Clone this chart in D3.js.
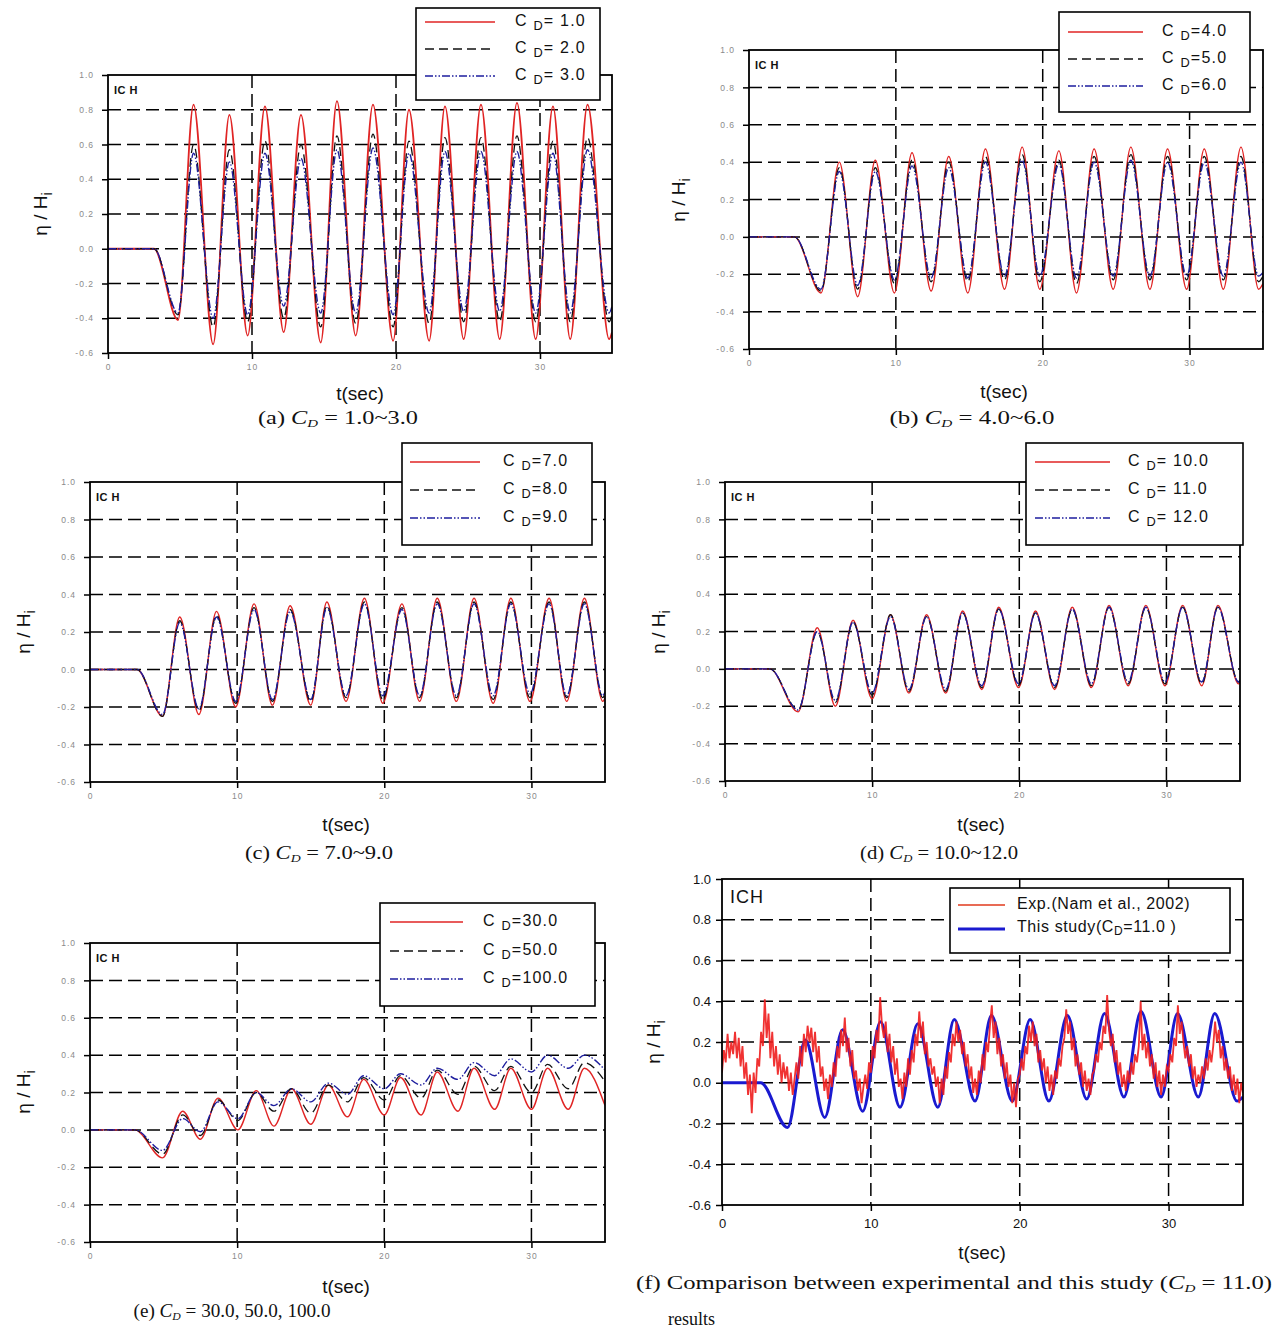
<!DOCTYPE html>
<html><head><meta charset="utf-8">
<script src="https://cdn.jsdelivr.net/npm/d3@7"></script>
<style>body{margin:0;background:#fff}</style>
</head><body>
<svg id="c" width="1280" height="1331"></svg>
<script>
// ---------------- DATA ----------------
const yTicks = [-0.6,-0.4,-0.2,0.0,0.2,0.4,0.6,0.8,1.0];
const xTicks = [0,10,20,30];

// (a) C_D = 1.0 ~ 3.0 : times of extrema and values
const tA = [0,3.2,4.86,5.94,7.3,8.43,9.7,10.9,12.2,13.4,14.77,15.9,17.2,18.4,19.8,20.9,22.3,23.4,24.7,25.9,27.2,28.4,29.7,30.9,32.1,33.3,34.8,35];
const a_cd1 = [0,0,-0.41,0.83,-0.55,0.77,-0.50,0.82,-0.48,0.77,-0.54,0.85,-0.50,0.83,-0.53,0.80,-0.53,0.82,-0.52,0.83,-0.52,0.84,-0.52,0.82,-0.52,0.83,-0.52,-0.48];
const a_cd2 = [0,0,-0.38,0.60,-0.45,0.57,-0.42,0.62,-0.40,0.60,-0.45,0.65,-0.43,0.66,-0.45,0.62,-0.43,0.64,-0.42,0.64,-0.42,0.65,-0.42,0.62,-0.42,0.64,-0.42,-0.38];
const a_cd3 = [0,0,-0.37,0.55,-0.40,0.50,-0.38,0.55,-0.33,0.52,-0.37,0.57,-0.37,0.58,-0.38,0.55,-0.37,0.56,-0.36,0.56,-0.36,0.56,-0.37,0.55,-0.37,0.57,-0.37,-0.33];

// (b) C_D = 4.0 ~ 6.0
const tB = [0,3.1,4.9,6.15,7.4,8.6,9.9,11.1,12.4,13.6,14.9,16.1,17.4,18.6,19.8,21.1,22.3,23.5,24.8,26.0,27.3,28.5,29.8,31.0,32.3,33.5,34.7,35];
const b_cd4 = [0,0,-0.30,0.40,-0.32,0.41,-0.30,0.45,-0.29,0.43,-0.30,0.47,-0.28,0.48,-0.28,0.46,-0.30,0.47,-0.28,0.48,-0.28,0.47,-0.28,0.47,-0.28,0.48,-0.28,-0.25];
const b_cd5 = [0,0,-0.29,0.37,-0.28,0.37,-0.25,0.41,-0.24,0.40,-0.24,0.43,-0.23,0.44,-0.24,0.41,-0.25,0.43,-0.23,0.44,-0.23,0.43,-0.23,0.43,-0.23,0.43,-0.24,-0.21];
const b_cd6 = [0,0,-0.28,0.35,-0.26,0.35,-0.23,0.38,-0.22,0.37,-0.22,0.40,-0.21,0.41,-0.21,0.39,-0.22,0.40,-0.21,0.41,-0.21,0.40,-0.21,0.40,-0.21,0.40,-0.21,-0.19];

// (c) C_D = 7.0 ~ 9.0
const tC = [0,3.2,4.93,6.1,7.4,8.6,9.9,11.15,12.4,13.6,15.0,16.1,17.4,18.65,19.9,21.2,22.4,23.6,24.9,26.1,27.4,28.6,29.9,31.2,32.4,33.6,34.85,35];
const c_cd7 = [0,0,-0.25,0.28,-0.24,0.31,-0.20,0.35,-0.19,0.34,-0.19,0.36,-0.17,0.38,-0.18,0.35,-0.17,0.38,-0.17,0.38,-0.18,0.38,-0.17,0.38,-0.17,0.38,-0.17,-0.15];
const c_cd8 = [0,0,-0.25,0.26,-0.22,0.29,-0.18,0.33,-0.17,0.32,-0.17,0.34,-0.15,0.36,-0.16,0.33,-0.15,0.36,-0.15,0.36,-0.16,0.36,-0.15,0.36,-0.15,0.36,-0.15,-0.13];
const c_cd9 = [0,0,-0.24,0.25,-0.21,0.28,-0.17,0.32,-0.16,0.31,-0.16,0.33,-0.14,0.35,-0.14,0.32,-0.14,0.35,-0.14,0.35,-0.14,0.35,-0.13,0.35,-0.14,0.35,-0.14,-0.12];

// (d) C_D = 10.0 ~ 12.0
const tD = [0,3.05,4.97,6.27,7.5,8.7,10.0,11.25,12.5,13.7,15.0,16.15,17.45,18.6,19.95,21.1,22.4,23.6,24.9,26.1,27.4,28.6,29.9,31.1,32.4,33.5,34.9,35];
const d_cd10 = [0,0,-0.23,0.22,-0.20,0.26,-0.16,0.29,-0.13,0.29,-0.13,0.31,-0.11,0.33,-0.10,0.31,-0.11,0.33,-0.10,0.34,-0.09,0.34,-0.09,0.34,-0.09,0.34,-0.08,-0.07];
const d_cd11 = [0,0,-0.22,0.20,-0.18,0.25,-0.14,0.29,-0.12,0.28,-0.12,0.30,-0.10,0.32,-0.09,0.30,-0.10,0.32,-0.09,0.33,-0.08,0.33,-0.08,0.33,-0.08,0.33,-0.07,-0.06];
const d_cd12 = [0,0,-0.22,0.20,-0.17,0.25,-0.13,0.28,-0.11,0.28,-0.11,0.30,-0.09,0.32,-0.08,0.30,-0.09,0.32,-0.08,0.33,-0.07,0.33,-0.07,0.33,-0.07,0.33,-0.07,-0.06];

// (e) C_D = 30, 50, 100
const tE = [0,3.05,4.93,6.3,7.5,8.7,10.05,11.3,12.5,13.7,15.0,16.2,17.5,18.6,20.0,21.1,22.5,23.6,25.0,26.1,27.5,28.6,30.0,31.1,32.5,33.6,35];
const e_cd30 = [0,0,-0.15,0.10,-0.05,0.17,0.00,0.21,0.02,0.22,0.03,0.24,0.07,0.27,0.08,0.28,0.08,0.31,0.10,0.33,0.11,0.33,0.11,0.33,0.11,0.33,0.13];
const e_cd50 = [0,0,-0.13,0.08,-0.03,0.16,0.05,0.20,0.10,0.22,0.09,0.24,0.15,0.28,0.16,0.29,0.17,0.32,0.19,0.34,0.21,0.34,0.20,0.35,0.22,0.36,0.26];
const e_cd100 = [0,0,-0.11,0.06,-0.01,0.15,0.06,0.20,0.13,0.22,0.15,0.25,0.19,0.29,0.22,0.30,0.24,0.33,0.27,0.36,0.29,0.38,0.31,0.40,0.33,0.40,0.32];

// (f) this study (C_D = 11.0)
const tF = [0,2.6,4.4,5.6,6.9,8.1,9.45,10.65,11.96,13.15,14.5,15.6,17.0,18.1,19.5,20.7,21.96,23.2,24.5,25.7,27.0,28.15,29.5,30.6,32.0,33.1,34.6,35];
const f_study = [0,0,-0.22,0.21,-0.17,0.26,-0.14,0.30,-0.12,0.29,-0.12,0.31,-0.09,0.33,-0.09,0.31,-0.09,0.33,-0.08,0.34,-0.07,0.35,-0.07,0.34,-0.07,0.34,-0.09,-0.07];
// (f) experiment (Nam et al., 2002), sampled every 0.125 s
const expDt = 0.125;
const f_exp = [
 0.05,0.16,0.10,0.24,0.12,0.20,0.14,0.25,
 0.12,0.22,0.08,0.18,0.02,0.10,-0.06,0.04,
 -0.15,0.05,-0.05,0.12,0.08,0.25,0.18,0.41,
 0.22,0.34,0.12,0.25,0.08,0.18,0.04,0.14,
 0.00,0.10,0.02,0.08,-0.04,0.05,-0.06,0.02,
 0.10,0.02,0.18,0.08,0.24,0.15,0.28,0.20,
 0.27,0.15,0.25,0.10,0.18,0.03,0.08,-0.04,
 0.02,-0.08,0.04,-0.02,0.10,0.03,0.18,0.12,
 0.26,0.18,0.32,0.15,0.22,0.08,0.16,0.02,
 0.06,-0.04,0.02,-0.10,-0.02,0.04,-0.03,0.10,
 0.05,0.18,0.12,0.26,0.20,0.42,0.28,0.22,
 0.30,0.15,0.24,0.10,0.18,0.04,0.12,-0.02,
 0.02,-0.08,0.05,-0.02,0.12,0.04,0.16,0.10,
 0.24,0.18,0.35,0.22,0.30,0.14,0.20,0.08,
 0.12,0.04,0.08,-0.02,0.03,-0.10,0.02,-0.06,
 0.08,0.02,0.15,0.10,0.24,0.18,0.30,0.20,
 0.26,0.14,0.20,0.08,0.14,0.02,0.08,-0.05,
 0.02,-0.06,0.06,0.00,0.14,0.06,0.20,0.15,
 0.28,0.38,0.22,0.30,0.14,0.22,0.08,0.14,
 0.02,0.10,-0.02,0.04,-0.10,0.00,-0.12,0.02,
 0.04,0.12,0.06,0.18,0.14,0.28,0.20,0.30,
 0.18,0.24,0.10,0.16,0.06,0.12,0.00,0.08,
 -0.04,0.04,-0.06,0.06,0.02,0.12,0.08,0.18,
 0.22,0.36,0.24,0.30,0.16,0.22,0.08,0.14,
 0.04,0.10,-0.02,0.06,-0.04,0.02,-0.06,0.04,
 0.06,0.14,0.10,0.20,0.16,0.28,0.24,0.43,
 0.26,0.18,0.24,0.10,0.16,0.04,0.10,-0.02,
 0.04,-0.04,0.06,0.00,0.10,0.04,0.14,0.10,
 0.18,0.40,0.16,0.24,0.12,0.20,0.08,0.14,
 0.02,0.10,-0.02,0.06,-0.06,0.04,-0.02,0.08,
 0.06,0.14,0.10,0.22,0.18,0.38,0.24,0.30,
 0.20,0.12,0.18,0.08,0.14,0.02,0.08,-0.02,
 0.04,0.00,0.08,0.02,0.12,0.06,0.16,0.10,
 0.18,0.30,0.20,0.26,0.12,0.18,0.06,0.12,
 0.02,0.08,-0.04,0.04,-0.06,0.02,-0.10,0.00,
 -0.05];

const legA = ["= 1.0","= 2.0","= 3.0"];
const legB = ["=4.0","=5.0","=6.0"];
const legC = ["=7.0","=8.0","=9.0"];
const legD = ["= 10.0","= 11.0","= 12.0"];
const legE = ["=30.0","=50.0","=100.0"];
const legF = ["Exp.(Nam et al., 2002)","This study(","=11.0 )"];
const capLetters = ["(a)","(b)","(c)","(d)","(e)"];
const capRanges = [" = 1.0~3.0"," = 4.0~6.0"," = 7.0~9.0"," = 10.0~12.0"," = 30.0, 50.0, 100.0"];

// ---------------- STYLES ----------------
const STY = {
  red:   {stroke:"#e02424", width:1.4, dash:null},
  black: {stroke:"#111111", width:1.3, dash:"9,5"},
  blue:  {stroke:"#1e1e9e", width:1.4, dash:"8,2,1.5,2,1.5,2"}
};
const SANS = "'Liberation Sans', Arial, sans-serif";
const SERIF = "'Liberation Serif', 'Times New Roman', serif";

const svg = d3.select('#c');
svg.append('rect').attr('width',1280).attr('height',1331).attr('fill','#fff');

function cdTspans(text, size, val){
  text.append('tspan').text('C ');
  text.append('tspan').text('D').attr('font-size', size*0.8).attr('dy', size*0.3);
  text.append('tspan').text(val).attr('dy', -size*0.3);
}

const panels = [
 {x0:108,x1:612,yT:75,yB:353, series:[[tA,a_cd1,'red'],[tA,a_cd2,'black'],[tA,a_cd3,'blue']],
  leg:{x:416,y:8,w:184,h:92,ly:[22,49,76],lx:[425,495],tx:515,labels:legA},
  xl:[360,395], yl:[42,214], cap:[338,420]},
 {x0:749,x1:1263,yT:50,yB:349, series:[[tB,b_cd4,'red'],[tB,b_cd5,'black'],[tB,b_cd6,'blue']],
  leg:{x:1059,y:12,w:191,h:100,ly:[32,59,86],lx:[1068,1143],tx:1162,labels:legB},
  xl:[1004,393], yl:[680,200], cap:[972,420]},
 {x0:90,x1:605,yT:482,yB:782, series:[[tC,c_cd7,'red'],[tC,c_cd8,'black'],[tC,c_cd9,'blue']],
  leg:{x:402,y:443,w:190,h:102,ly:[462,490,518],lx:[410,480],tx:503,labels:legC},
  xl:[346,826], yl:[25,632], cap:[319,855]},
 {x0:725,x1:1240,yT:482,yB:781, series:[[tD,d_cd10,'red'],[tD,d_cd11,'black'],[tD,d_cd12,'blue']],
  leg:{x:1026,y:443,w:217,h:102,ly:[462,490,518],lx:[1035,1110],tx:1128,labels:legD},
  xl:[981,826], yl:[660,632], cap:[939,855]},
 {x0:90,x1:605,yT:943,yB:1242, series:[[tE,e_cd30,'red'],[tE,e_cd50,'black'],[tE,e_cd100,'blue']],
  leg:{x:380,y:903,w:215,h:103,ly:[922,951,979],lx:[390,463],tx:483,labels:legE},
  xl:[346,1288], yl:[25,1092], cap:[232,1313]}
];

function frameAndAxes(p, x, y, big){
  const g = svg.append('g');
  g.selectAll(null).data(yTicks.filter(v=>v>-0.59 && v<0.99)).join('line')
    .attr('x1',p.x0).attr('x2',p.x1).attr('y1',d=>y(d)).attr('y2',d=>y(d))
    .attr('stroke','#000').attr('stroke-width',1.5).attr('stroke-dasharray','13,6');
  g.selectAll(null).data(xTicks.filter(v=>v>0)).join('line')
    .attr('y1',p.yT).attr('y2',p.yB).attr('x1',d=>x(d)).attr('x2',d=>x(d))
    .attr('stroke','#000').attr('stroke-width',1.5).attr('stroke-dasharray','13,6');
  const ya = d3.axisLeft(y).tickValues(yTicks).tickFormat(d=>d.toFixed(1)).tickSizeInner(6).tickSizeOuter(0).tickPadding(big?5:8);
  const xa = d3.axisBottom(x).tickValues(xTicks).tickFormat(d=>String(d)).tickSizeInner(6).tickSizeOuter(0).tickPadding(big?8:5);
  const gy = g.append('g').attr('transform',`translate(${p.x0},0)`).call(ya);
  const gx = g.append('g').attr('transform',`translate(0,${p.yB})`).call(xa);
  [gy,gx].forEach(a=>{
    a.select('.domain').remove();
    a.selectAll('.tick line').attr('stroke','#000').attr('stroke-width',1.5);
    a.selectAll('.tick text').attr('font-family',SANS)
      .attr('font-size', big?13:8.5).attr('fill', big?'#111':'#8a8a8a')
      .attr('letter-spacing', big?0:1);
  });
  return g;
}

function drawFrame(p){
  svg.append('rect').attr('x',p.x0).attr('y',p.yT).attr('width',p.x1-p.x0).attr('height',p.yB-p.yT)
    .attr('fill','none').attr('stroke','#000').attr('stroke-width',1.8);
}

function yLabel(cx, cy, size){
  const t = svg.append('text').attr('transform',`translate(${cx},${cy}) rotate(-90)`)
    .attr('text-anchor','middle').attr('dominant-baseline','middle')
    .attr('font-family',SANS).attr('font-size',size).attr('fill','#111');
  t.append('tspan').text('η / H');
  t.append('tspan').text('i').attr('font-size',size*0.75).attr('dy',size*0.3);
}
function xLabel(cx, cy, size){
  svg.append('text').attr('x',cx).attr('y',cy).attr('text-anchor','middle').attr('dominant-baseline','middle')
    .attr('font-family',SANS).attr('font-size',size).attr('fill','#111').text('t(sec)');
}
function caption(cx, cy, letter, rng, len){
  const t = svg.append('text').attr('x',cx).attr('y',cy).attr('text-anchor','middle').attr('dominant-baseline','middle')
    .attr('font-family',SERIF).attr('font-size',18).attr('fill','#111')
    .attr('textLength',len).attr('lengthAdjust','spacingAndGlyphs');
  t.append('tspan').text(letter+'  ');
  t.append('tspan').text('C').attr('font-style','italic');
  t.append('tspan').text('D').attr('font-style','italic').attr('font-size',11).attr('dy',4);
  t.append('tspan').text(rng).attr('dy',-4);
}

const capLens = [160,165,148,158,197];

panels.forEach((p,i)=>{
  const x = d3.scaleLinear().domain([0,35]).range([p.x0,p.x1]);
  const y = d3.scaleLinear().domain([-0.6,1.0]).range([p.yB,p.yT]);
  frameAndAxes(p,x,y,false);
  const cid = 'clip'+i;
  svg.append('clipPath').attr('id',cid).append('rect').attr('x',p.x0).attr('y',p.yT-2).attr('width',p.x1-p.x0).attr('height',p.yB-p.yT+2);
  const line = d3.line().x(d=>x(d[0])).y(d=>y(d[1])).curve(d3.curveMonotoneX);
  const gl = svg.append('g').attr('clip-path',`url(#${cid})`);
  p.series.forEach(([t,v,s])=>{
    const st = STY[s];
    gl.append('path').datum(d3.zip(t,v)).attr('d',line).attr('fill','none')
      .attr('stroke',st.stroke).attr('stroke-width', (i===0&&s==='red')?1.8:st.width)
      .attr('stroke-dasharray',st.dash);
  });
  drawFrame(p);
  svg.append('text').attr('x',p.x0+6).attr('y',p.yT+19).attr('font-family',SANS).attr('font-size',11)
    .attr('font-weight','bold').attr('fill','#111').attr('letter-spacing',0.5).text('IC H');
  const L = p.leg;
  svg.append('rect').attr('x',L.x).attr('y',L.y).attr('width',L.w).attr('height',L.h)
    .attr('fill','#fff').attr('stroke','#000').attr('stroke-width',1.6);
  ['red','black','blue'].forEach((s,k)=>{
    const st = STY[s];
    svg.append('line').attr('x1',L.lx[0]).attr('x2',L.lx[1]).attr('y1',L.ly[k]).attr('y2',L.ly[k])
      .attr('stroke',st.stroke).attr('stroke-width',1.6).attr('stroke-dasharray',st.dash);
    const t = svg.append('text').attr('x',L.tx).attr('y',L.ly[k]).attr('dominant-baseline','middle')
      .attr('font-family',SANS).attr('font-size',16).attr('fill','#111').attr('letter-spacing',1.2);
    cdTspans(t,16,L.labels[k]);
  });
  xLabel(p.xl[0],p.xl[1],19);
  yLabel(p.yl[0],p.yl[1],19);
  caption(p.cap[0],p.cap[1],capLetters[i],capRanges[i],capLens[i]);
});

// ---------------- panel (f) ----------------
(function(){
  const p = {x0:722,x1:1243,yT:879,yB:1205};
  const x = d3.scaleLinear().domain([0,35]).range([p.x0,p.x1]);
  const y = d3.scaleLinear().domain([-0.6,1.0]).range([p.yB,p.yT]);
  frameAndAxes(p,x,y,true);
  svg.append('clipPath').attr('id','clip5').append('rect').attr('x',p.x0).attr('y',p.yT).attr('width',p.x1-p.x0).attr('height',p.yB-p.yT);
  const line = d3.line().x(d=>x(d[0])).y(d=>y(d[1]));
  const gl = svg.append('g').attr('clip-path','url(#clip5)');
  const expPts = f_exp.map((v,k)=>[k*expDt, v]);
  gl.append('path').datum(d3.zip(tF,f_study)).attr('d',d3.line().x(d=>x(d[0])).y(d=>y(d[1])).curve(d3.curveMonotoneX)).attr('fill','none')
    .attr('stroke','#1a1ad0').attr('stroke-width',3);
  gl.append('path').datum(expPts).attr('d',line).attr('fill','none').attr('stroke','#ee1c1c').attr('stroke-width',1.8).attr('stroke-opacity',0.9);
  drawFrame(p);
  svg.append('text').attr('x',p.x0+8).attr('y',p.yT+24).attr('font-family',SANS).attr('font-size',18)
    .attr('fill','#111').attr('letter-spacing',1).text('ICH');
  svg.append('rect').attr('x',950).attr('y',888).attr('width',280).attr('height',65)
    .attr('fill','#fff').attr('stroke','#000').attr('stroke-width',1.6);
  svg.append('line').attr('x1',958).attr('x2',1005).attr('y1',905).attr('y2',905).attr('stroke','#e03a1c').attr('stroke-width',1.5);
  svg.append('line').attr('x1',958).attr('x2',1005).attr('y1',929).attr('y2',929).attr('stroke','#1a1ad0').attr('stroke-width',3.2);
  svg.append('text').attr('x',1017).attr('y',905).attr('dominant-baseline','middle').attr('font-family',SANS)
    .attr('font-size',16).attr('fill','#111').attr('letter-spacing',0.6).text(legF[0]);
  const t2 = svg.append('text').attr('x',1017).attr('y',928).attr('dominant-baseline','middle').attr('font-family',SANS)
    .attr('font-size',16).attr('fill','#111').attr('letter-spacing',0.6);
  t2.append('tspan').text(legF[1]);
  t2.append('tspan').text('C');
  t2.append('tspan').text('D').attr('font-size',12).attr('dy',4);
  t2.append('tspan').text(legF[2]).attr('dy',-4);
  xLabel(982,1254,19);
  yLabel(655,1042,19);
  const c1 = svg.append('text').attr('x',636).attr('y',1285).attr('dominant-baseline','middle')
    .attr('font-family',SERIF).attr('font-size',18).attr('fill','#111')
    .attr('textLength',636).attr('lengthAdjust','spacingAndGlyphs');
  c1.append('tspan').text('(f)  Comparison between experimental and this study (');
  c1.append('tspan').text('C').attr('font-style','italic');
  c1.append('tspan').text('D').attr('font-style','italic').attr('font-size',11).attr('dy',4);
  c1.append('tspan').text(' = 11.0)').attr('dy',-4);
  svg.append('text').attr('x',668).attr('y',1321).attr('dominant-baseline','middle')
    .attr('font-family',SERIF).attr('font-size',18).attr('fill','#111').text('results');
})();
</script>
</body></html>
